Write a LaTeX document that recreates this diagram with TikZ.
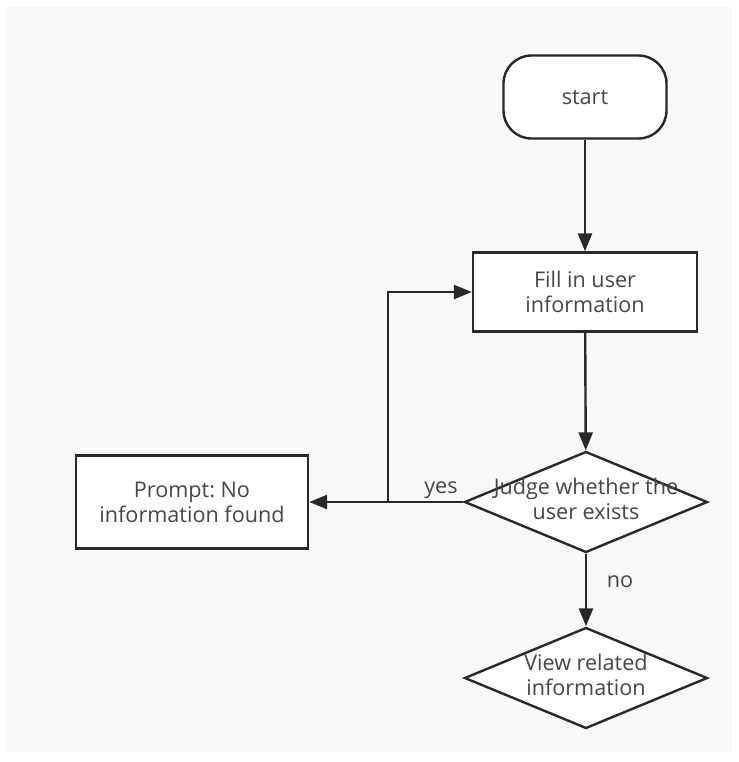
\documentclass[tikz,border=0pt]{standalone}
\usepackage{fontspec}
\setmainfont{Open Sans}
\usepackage{tikz}
\usetikzlibrary{arrows.meta, shapes, positioning}
\usepackage{xcolor}
\definecolor{panelgray}{RGB}{248,248,248}
\definecolor{linegray}{RGB}{40,40,40}
\definecolor{textgray}{RGB}{70,70,70}
\tikzset{terminalnode/.style={rectangle, rounded corners=14pt, fill=white, draw=linegray, line width=1.2pt, minimum width=81.5pt, minimum height=41.5pt, text=textgray, font=\fontsize{10.8}{12.5}\selectfont},
processnode/.style={rectangle, fill=white, draw=linegray, line width=1.2pt, align=center, text=textgray, font=\fontsize{10.8}{12.5}\selectfont},
decisionnode/.style={diamond, fill=white, draw=linegray, line width=1.2pt, inner sep=0pt, minimum width=121.5pt, minimum height=50.5pt, text=textgray, font=\fontsize{10.8}{12.5}\selectfont},
flowarrow/.style={draw=linegray, line width=1.2pt, -{Triangle[length=9pt, width=7pt]}},
branchlabel/.style={text=textgray, font=\fontsize{10.8}{12.5}\selectfont}}
\newcommand{\diamondtext}[1]{\makebox[0pt]{\smash{\raisebox{-2.5pt}{\begin{tabular}{@{}c@{}}#1\end{tabular}}}}}

\begin{document}
\frenchspacing
\begin{tikzpicture}[x=0.5pt, y=-0.5pt]
    % Background
    \useasboundingbox (0, 0) rectangle (739, 762);
    \fill[panelgray] (7, 7) rectangle (732, 752);

    % Nodes
    \node[terminalnode] (start) at (585, 97) {start};
    \node[processnode, minimum width=112pt, minimum height=39.5pt] (fill) at (585, 292) {Fill in user\\information};
    \node[decisionnode] (judge) at (586, 502) {\diamondtext{Judge whether the\\user exists}};
    \node[processnode, minimum width=116pt, minimum height=46.5pt] (prompt) at (192, 502) {Prompt: No\\information found};
    \node[decisionnode] (view) at (586, 678) {\diamondtext{View related\\information}};
    \coordinate (loop) at (388, 502);

    % Arrows
    \draw[flowarrow] (start) -- (fill);
    \draw[flowarrow] (fill) -- (judge);
    \draw[flowarrow] (judge.west) -- (prompt.east);
    \draw[flowarrow] (loop) |- (fill.west);
    \draw[flowarrow] (judge) -- (view);

    % Labels
    \node[branchlabel] (yes) at (441, 490) {yes};
    \node[branchlabel] (no) at (620, 582) {no};
\end{tikzpicture}
\end{document}
